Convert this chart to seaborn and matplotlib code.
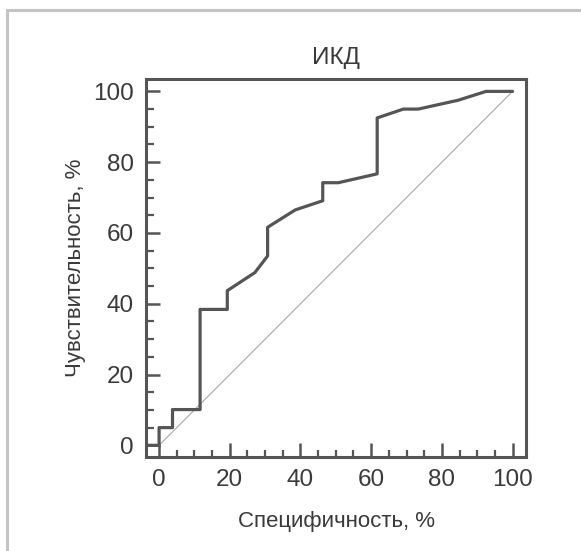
import pandas as pd
import matplotlib.pyplot as plt
import matplotlib.patches as patches
from matplotlib.ticker import MultipleLocator
import seaborn as sns

sns.set_style("white")
plt.rcParams['font.family'] = ['Liberation Sans', 'DejaVu Sans']

# ROC curve points (specificity, sensitivity), %
specificity = [-3.7, 0, 0, 3.8, 3.8, 11.6, 11.6, 19.3, 19.3, 27.1, 30.7, 30.7,
               38.5, 46.3, 46.3, 50.7, 61.7, 61.7, 69.1, 73.3, 84.6, 92.5, 100]
sensitivity = [0, 0, 5.0, 5.0, 10.1, 10.1, 38.4, 38.4, 43.7, 48.8, 53.5, 61.6,
               66.5, 69.1, 74.2, 74.2, 76.7, 92.5, 95.0, 95.0, 97.5, 100, 100]
diag = [0, 100]

roc = pd.DataFrame({"spec": specificity, "sens": sensitivity})

fig = plt.figure(figsize=(5.81, 5.51), dpi=100)
ax = fig.add_axes([146 / 581, 1 - 457 / 551, 380 / 581, 378 / 551])

# light frame around the figure
fig.patches.append(patches.Rectangle((7 / 581, -0.1), 1.2, 1 - 10 / 551 + 0.1,
                                     transform=fig.transFigure, fill=False,
                                     edgecolor="#c4c4c4", linewidth=2.2))

ax.plot(diag, diag, color="#a8a8a8", linewidth=0.8)
sns.lineplot(data=roc, x="spec", y="sens", sort=False, estimator=None,
             color="#555555", linewidth=2.3, ax=ax)

ax.set_xlim(-3.7, 103.8)
ax.set_ylim(-3.3, 103.5)
ax.xaxis.set_major_locator(MultipleLocator(20))
ax.yaxis.set_major_locator(MultipleLocator(20))
ax.xaxis.set_minor_locator(MultipleLocator(5))
ax.yaxis.set_minor_locator(MultipleLocator(5))
ax.tick_params(which="both", bottom=True, left=True, top=False, right=False)
ax.tick_params(which="major", direction="in", length=10, width=1.8,
               color="#555555", labelsize=17.5, labelcolor="#3a3a3a", pad=9)
ax.tick_params(which="minor", direction="in", length=5, width=1.6,
               color="#555555")
ax.tick_params(axis="y", which="minor", length=6)
for s in ax.spines.values():
    s.set_color("#555555")
    s.set_linewidth(2.2)

ax.set_title("ИКД", fontsize=17.5, color="#3a3a3a", pad=11)
ax.set_xlabel("Специфичность, %", fontsize=16, color="#3a3a3a", labelpad=14)
ax.set_ylabel("Чувствительность, %", fontsize=16, color="#3a3a3a", labelpad=5)

plt.savefig("out.png", dpi=100)
plt.close()
